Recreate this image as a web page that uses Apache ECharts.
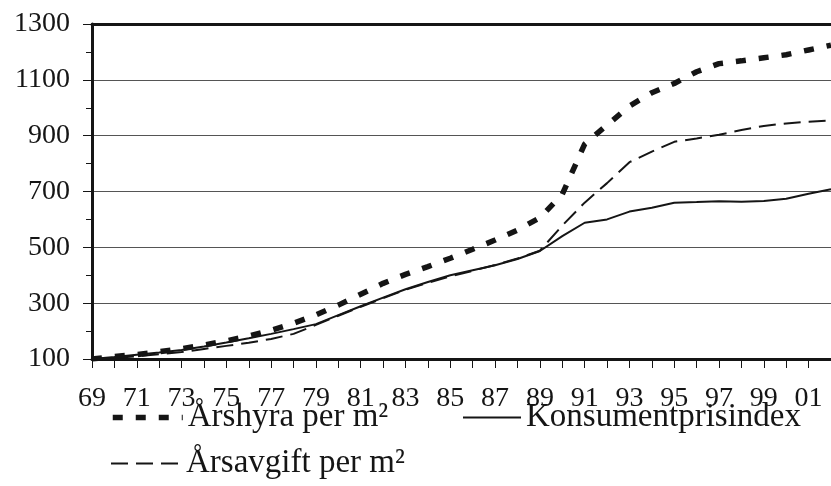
<!DOCTYPE html>
<html>
<head>
<meta charset="utf-8">
<script src="https://cdn.jsdelivr.net/npm/echarts@6/dist/echarts.min.js"></script>
<style>
  html, body { margin: 0; padding: 0; background: #fff; }
  #chart { width: 831px; height: 486px; }
</style>
</head>
<body>
<div id="chart"></div>
<script>
// år 1969-2002
var years = ['69','70','71','72','73','74','75','76','77','78','79','80','81','82','83','84','85',
  '86','87','88','89','90','91','92','93','94','95','96','97','98','99','00','01','02'];

var arshyra = [100,109,116,126,137,150,165,182,203,228,258,293,332,371,403,431,461,
  493,526,562,606,690,870,938,1006,1054,1087,1129,1158,1168,1179,1190,1207,1224];

var kpi = [100,107,115,123,132,145,159,174,190,207,225,257,289,320,350,376,400,
  418,436,458,487,540,588,600,628,642,660,662,665,663,666,674,692,708];

var arsavgift = [100,104,110,117,125,136,147,158,172,190,222,255,287,318,348,373,396,
  416,437,460,488,578,660,730,805,843,878,890,903,920,935,944,950,954];

var yTicks = { min: 100, max: 1300, step: 200 };

var font = 'Liberation Serif';
var ink = '#151515';

var styles = {
  'Årshyra per m²': { color: ink, width: 5.5, type: [10, 13] },
  'Konsumentprisindex': { color: ink, width: 2 },
  'Årsavgift per m²': { color: ink, width: 2, type: [17, 8] }
};

var chart = echarts.init(document.getElementById('chart'));

// en legend per post så att de hamnar som i förlagan
function legendItem(name, left, top, w) {
  return {
    data: [name],
    left: left,
    top: top,
    padding: 0,
    itemWidth: w,
    itemHeight: 20,
    selectedMode: false,
    itemStyle: { opacity: 0 },
    lineStyle: styles[name],
    textStyle: { fontFamily: font, fontSize: 33, color: ink, padding: [14, 0, 0, 0] }
  };
}

chart.setOption({
  animation: false,
  grid: { left: 92, right: -9, top: 24, bottom: 127 },
  legend: [
    legendItem('Årshyra per m²', 110, 401, 70),
    legendItem('Konsumentprisindex', 462, 401, 58),
    legendItem('Årsavgift per m²', 110, 447, 70)
  ],
  xAxis: [{
    type: 'category',
    data: years,
    boundaryGap: false,
    axisLine: { lineStyle: { color: ink, width: 3 } },
    axisTick: { interval: 0, length: 9, lineStyle: { color: ink, width: 1 } },
    axisLabel: {
      interval: function (i) { return i % 2 === 0 && i < 33; },
      hideOverlap: false,
      margin: 26,
      fontFamily: font,
      fontSize: 28,
      color: ink
    },
    splitLine: { show: false }
  }, {
    // tjock ram upptill
    type: 'category',
    data: years,
    position: 'top',
    boundaryGap: false,
    axisLine: { lineStyle: { color: ink, width: 3 } },
    axisTick: { show: false },
    axisLabel: { show: false }
  }],
  yAxis: {
    type: 'value',
    min: yTicks.min,
    max: yTicks.max,
    interval: yTicks.step,
    axisLine: { show: true, lineStyle: { color: ink, width: 3 } },
    axisTick: { show: true, length: 9, lineStyle: { color: ink, width: 1 } },
    minorTick: { show: true, splitNumber: 2, length: 6, lineStyle: { color: ink, width: 1 } },
    axisLabel: {
      margin: 22, fontFamily: font, fontSize: 28, color: ink,
      formatter: function (v) { return String(v); }
    },
    splitLine: { show: true, lineStyle: { color: '#555', width: 1.2 } }
  },
  series: [{
    name: 'Årshyra per m²',
    type: 'line',
    data: arshyra,
    symbol: 'none',
    lineStyle: styles['Årshyra per m²'],
    itemStyle: { color: ink },
    z: 3
  }, {
    name: 'Konsumentprisindex',
    type: 'line',
    data: kpi,
    symbol: 'none',
    lineStyle: styles['Konsumentprisindex'],
    itemStyle: { color: ink },
    z: 2
  }, {
    name: 'Årsavgift per m²',
    type: 'line',
    data: arsavgift,
    symbol: 'none',
    lineStyle: styles['Årsavgift per m²'],
    itemStyle: { color: ink },
    z: 2
  }]
});
</script>
</body>
</html>
